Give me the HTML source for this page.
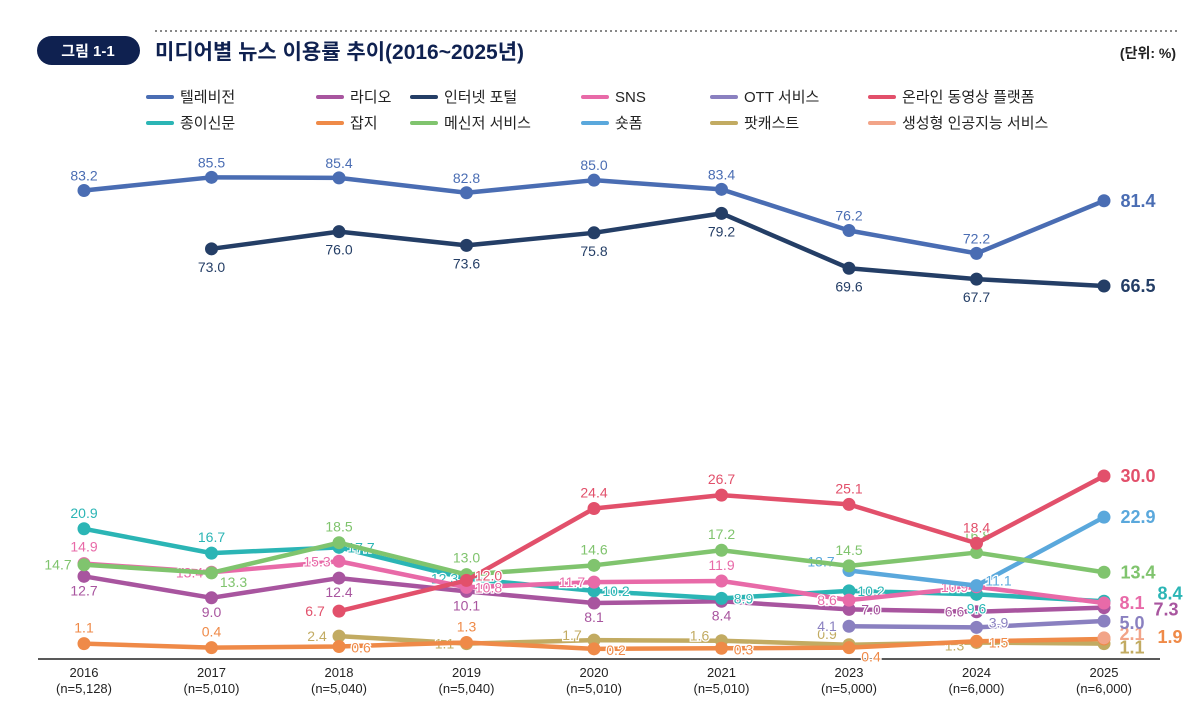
<!DOCTYPE html>
<html><head><meta charset="utf-8"><style>
body{margin:0;background:#fff;font-family:"Liberation Sans","Noto Sans CJK KR",sans-serif;}
#wrap{position:relative;width:1200px;height:711px;overflow:hidden;}
</style></head><body>
<div id="wrap">
<svg id="chart" width="1200" height="711" style="position:absolute;left:0;top:0;font-family:'Liberation Sans','Noto Sans CJK KR',sans-serif">
 <line x1="155" y1="31" x2="1180" y2="31" stroke="#888" stroke-width="2" stroke-dasharray="2,3"/>
 <rect x="37" y="36" width="103" height="29" rx="14.5" fill="#0f2150"/>
 <text x="88" y="56" fill="#fff" font-size="15" font-weight="bold" text-anchor="middle">그림 1-1</text>
 <text x="155" y="59" fill="#0f2150" font-size="21" font-weight="bold">미디어별 뉴스 이용률 추이(2016~2025년)</text>
 <text x="1176" y="58" fill="#222" font-size="14" font-weight="bold" text-anchor="end">(단위: %)</text>
 <line x1="38" y1="659" x2="1160" y2="659" stroke="#222" stroke-width="1.5"/>
 <g id="legend"></g><g id="xaxis"></g><g id="series"></g>
</svg>
</div>
<script>
const categories=["2016","2017","2018","2019","2020","2021","2023","2024","2025"];
const sampleSizes=["(n=5,128)","(n=5,010)","(n=5,040)","(n=5,040)","(n=5,010)","(n=5,010)","(n=5,000)","(n=6,000)","(n=6,000)"];
const seriesNames=["텔레비전","라디오","인터넷 포털","SNS","OTT 서비스","온라인 동영상 플랫폼","종이신문","잡지","메신저 서비스","숏폼","팟캐스트","생성형 인공지능 서비스"];
const tvValues=[83.2,85.5,85.4,82.8,85.0,83.4,76.2,72.2,81.4];
const radioValues=[12.7,9.0,12.4,10.1,8.1,8.4,7.0,6.6,7.3];
const portalValues=[null,73.0,76.0,73.6,75.8,79.2,69.6,67.7,66.5];
const snsValues=[14.9,13.4,15.3,10.8,11.7,11.9,8.6,10.9,8.1];
const ottValues=[null,null,null,null,null,null,4.1,3.9,5.0];
const videoValues=[null,null,6.7,12.0,24.4,26.7,25.1,18.4,30.0];
const newspaperValues=[20.9,16.7,17.7,12.3,10.2,8.9,10.2,9.6,8.4];
const magazineValues=[1.1,0.4,0.6,1.3,0.2,0.3,0.4,1.5,1.9];
const messengerValues=[14.7,13.3,18.5,13.0,14.6,17.2,14.5,16.8,13.4];
const shortsValues=[null,null,null,null,null,null,13.7,11.1,22.9];
const podcastValues=[null,null,2.4,1.1,1.7,1.6,0.9,1.3,1.1];
const genaiValues=[null,null,null,null,null,null,null,null,2.1];

const colors=["#4a6db3","#a8559f","#243e66","#e86aa8","#8a80c0","#e2506b","#2bb5b5","#ef8a48","#80c46e","#5aa8dc","#c2ab62","#f2a488"];
const allValues=[tvValues,radioValues,portalValues,snsValues,ottValues,videoValues,newspaperValues,magazineValues,messengerValues,shortsValues,podcastValues,genaiValues];
const labOff=[
 [[0,-10]],[[0,19]],[[0,23]],[[0,-11]],[[-22,5]],[[0,-11]],[[0,-11]],[[0,-11]],[[0,-11]],[[-28,-4]],[[-24,4]],[[0,0]]
];
const ptOverride={
 "1-6":[22,5],"1-7":[-22,5],"3-1":[-22,5],"3-2":[-22,5],"3-3":[22,5],"3-4":[-22,5],"3-6":[-22,5],"3-7":[-22,5],
 "6-2":[22,5],"6-3":[-22,5],"6-4":[22,5],"6-5":[22,5],"6-6":[22,5],"6-7":[0,19],"6-0":[0,-11],
 "8-0":[-26,5],"8-1":[22,14],"8-3":[0,-12],"8-7":[0,-12],"3-0":[0,-12],"5-2":[-24,5],"5-3":[22,0],
 "7-2":[22,6],"7-4":[22,6],"7-5":[22,6],"7-6":[22,14],"7-7":[22,6],"10-2":[-22,5],"10-3":[-22,5],"10-4":[-22,0],"10-5":[-22,0],"10-6":[-22,-6],"10-7":[-22,8],
 "4-7":[22,0],"9-7":[22,0]
};
const endOff=[[34,6],[62,8],[34,6],[28,6],[28,8],[34,6],[66,-2],[66,4],[34,6],[34,6],[28,10],[28,2]];
const NS="http://www.w3.org/2000/svg";
function xPos(i){return 84+i*127.5;}
function yPos(v){return v<50?650-v*5.8:286-(v-66.5)*5.72;}
function mk(tag,attrs,parent){const e=document.createElementNS(NS,tag);for(const k in attrs)e.setAttribute(k,attrs[k]);parent.appendChild(e);return e;}
const xg=document.getElementById('xaxis');
categories.forEach((c,i)=>{
 const t=mk('text',{x:xPos(i),y:677,'text-anchor':'middle','font-size':13,fill:'#222'},xg);t.textContent=c;
 
 
 const n=mk('text',{x:xPos(i),y:693,'text-anchor':'middle','font-size':13,fill:'#222'},xg);n.textContent=sampleSizes[i];
 
 
});
const lg=document.getElementById('legend');
const colX=[148,318,412,583,712,870];
seriesNames.forEach((nm,k)=>{
 const g=mk('g',{},lg);
 
 
 const x=colX[k%6],y=k<6?97:123;
 mk('line',{x1:x,y1:y,x2:x+24,y2:y,stroke:colors[k],'stroke-width':4,'stroke-linecap':'round'},g);
 const t=mk('text',{x:x+32,y:y+5,'font-size':15,fill:'#222'},g);t.textContent=nm;
});
const sg=document.getElementById('series');
const order=[10,7,11,4,1,6,3,9,8,5,2,0];
order.forEach(k=>{
 const vals=allValues[k];const g=mk('g',{},sg);
 
 
 const pts=[];vals.forEach((v,i)=>{if(v!==null)pts.push([xPos(i),yPos(v),v,i]);});
 if(pts.length>1){const p=mk('polyline',{points:pts.map(p=>p[0]+','+p[1]).join(' '),fill:'none',stroke:colors[k],'stroke-width':4.5,'stroke-linejoin':'round'},g);
  
  }
 pts.forEach((p,j)=>{
  const c=mk('circle',{cx:p[0],cy:p[1],r:6.5,fill:colors[k]},g);
  
  
  const last=p[3]===8;
  let off=last?endOff[k]:(ptOverride[k+'-'+p[3]]||labOff[k][0]);
  const t=mk('text',{x:p[0]+off[0],y:p[1]+off[1],'text-anchor':'middle','font-size':last?18:14,'font-weight':last?'bold':'normal',fill:colors[k],stroke:'#fff','stroke-width':last?0:2.5,'paint-order':'stroke'},g);
  t.textContent=p[2].toFixed(1);
  
  
 });
});
</script>
</body></html>
